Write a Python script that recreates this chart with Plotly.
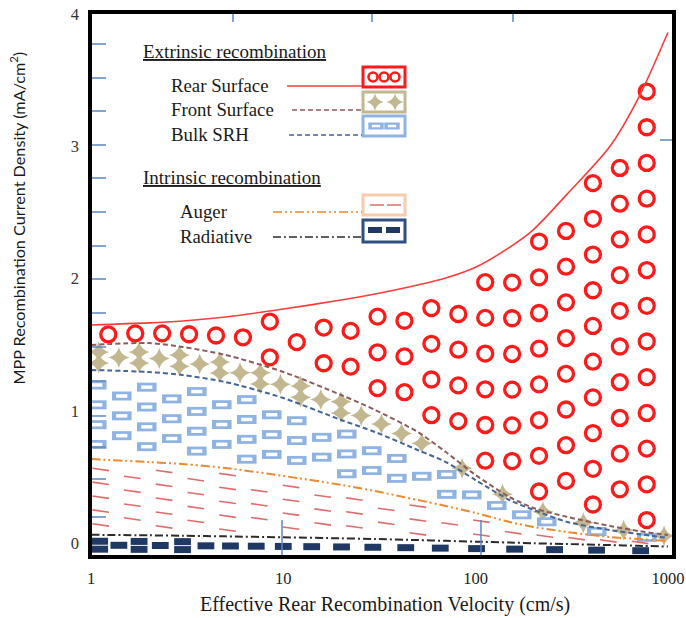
import numpy as np
import plotly.graph_objects as go

# Effective rear recombination velocity (cm/s)
velocity = [1, 2, 3, 5, 10, 20, 30, 50, 70, 100, 150, 200, 300, 500, 700, 1000]

# Stacked MPP recombination current density (mA/cm²); each curve is a running total
rear_surface = [1.648, 1.664, 1.679, 1.709, 1.769, 1.837, 1.883, 1.951, 2.004, 2.085,
                2.235, 2.37, 2.64, 3.0, 3.36, 3.860]
front_surface = [1.497, 1.512, 1.482, 1.422, 1.293, 1.119, 1.006, 0.839, 0.688, 0.514,
                 0.348, 0.265, 0.197, 0.129, 0.091, 0.060]
bulk_srh = [1.308, 1.293, 1.270, 1.217, 1.096, 0.930, 0.839, 0.703, 0.612, 0.476,
            0.325, 0.250, 0.159, 0.098, 0.068, 0.038]
auger = [0.635, 0.612, 0.597, 0.567, 0.507, 0.439, 0.393, 0.325, 0.280, 0.227,
         0.159, 0.121, 0.083, 0.045, 0.030, 0.015]
radiative = [0.062, 0.058, 0.055, 0.050, 0.043, 0.035, 0.030, 0.022, 0.016, 0.010,
             0.003, -0.002, -0.008, -0.016, -0.021, -0.027]

x_ticks = [1, 10, 100, 1000]
y_ticks = [0, 1, 2, 3, 4]

SERIF = "Liberation Serif, Times New Roman, serif"
SANS = "Lato, Open Sans, sans-serif"
X_RANGE = [-0.0052, 3.0317]
Y_RANGE = [-0.106, 4.015]
Y_FLOOR = -0.095
MARK_BLUE = "#5b86c4"

log_v = np.log10(velocity)


def curve_at(curve, lv):
    return float(np.interp(lv, log_v, curve))


def pattern(lower, upper, step_dec, step_y, pad, min_gap,
            start=0.08, stop=3.0, sparse_mid=False, growth=1.0):
    """Column-wise fill-pattern positions centred in the band between two curves."""
    xs, ys = [], []
    col = 0
    lv = start
    while lv <= stop:
        lo, hi = curve_at(lower, lv), curve_at(upper, lv)
        usable = hi - lo - 2 * pad
        if usable >= 0:
            k = int(usable // step_y) + 1
            if col % 2 == 1 and k > 1:
                k -= 1
            first = lo + pad + 0.5 * (usable - (k - 1) * step_y)
            for j in range(k):
                xs.append(10 ** lv)
                ys.append(first + j * step_y)
        elif hi - lo >= min_gap and (not sparse_mid or col % 2 == 0):
            xs.append(10 ** lv)
            ys.append(0.5 * (lo + hi))
        col += 1
        lv += step_dec
        step_dec *= growth
    return xs, ys


fig = go.Figure()


def add_markers(xs, ys, xaxis="x", yaxis="y", **marker):
    fig.add_trace(go.Scatter(x=xs, y=ys, mode="markers", marker=marker,
                             xaxis=xaxis, yaxis=yaxis, cliponaxis=True,
                             hoverinfo="skip", showlegend=False))


floor = np.full(len(velocity), Y_FLOOR)

# --- fill patterns for each recombination channel ---
px, py = pattern(front_surface, rear_surface, 0.14, 0.27, 0.07, 0.09, start=0.09)
add_markers(px, py, symbol="circle-open", size=15, color="#ff1a1a",
            line=dict(width=3.3, color="#ff1a1a"))

px, py = pattern(bulk_srh, front_surface, 0.105, 0.085, 0.045, 0.0,
                 start=0.04, sparse_mid=True)
add_markers(px, py, symbol="star-diamond", size=15, color="#c2b78f",
            line=dict(width=0))

px, py = pattern(auger, bulk_srh, 0.13, 0.15, 0.065, 0.0, start=0.03, sparse_mid=True)
add_markers(px, py, symbol="line-ew", size=14,
            line=dict(width=9, color="#8fb3e3"))
add_markers(px, py, symbol="line-ew", size=8,
            line=dict(width=3.5, color="white"))

px, py = pattern(radiative, auger, 0.165, 0.105, 0.045, 0.05, start=0.05)
add_markers(px, py, symbol="line-ew", size=12, angle=8,
            line=dict(width=1.6, color="#e06b6b"))

px, py = pattern(floor, radiative, 0.1, 0.06, 0.045, 0.03, start=0.045, growth=1.05)
add_markers(px, py, symbol="line-ew", size=12,
            line=dict(width=7, color="#1f3864"))

# --- cumulative curves ---
curve_styles = [
    (radiative, "#2b2b2b", "8px,3px,2px,3px", 2.0),
    (auger, "#f0882c", "9px,3px,2px,3px,2px,3px", 2.0),
    (bulk_srh, "#44659a", "5px,3px", 2.0),
    (front_surface, "#8e5b5b", "5px,3px", 2.0),
    (rear_surface, "#ff3b3b", "solid", 1.6),
]
for ys, color, dash, width in curve_styles:
    fig.add_trace(go.Scatter(x=velocity, y=ys, mode="lines",
                             line=dict(color=color, dash=dash, width=width,
                                       shape="spline", smoothing=0.8),
                             hoverinfo="skip", showlegend=False))

# --- hand-built key (drawn on a pixel-scaled overlay axis) ---
key_rows = [
    ("Rear Surface", 169, 86, 287, "#ff3b3b", "solid", "#ff1a1a", 67, 87),
    ("Front Surface", 169, 110, 292, "#8e5b5b", "5px,3px", "#c2b78f", 92, 112),
    ("Bulk SRH", 169, 135, 289, "#44659a", "5px,3px", "#8fb3e3", 116, 136),
    ("Auger", 178, 212, 273, "#f0882c", "9px,3px,2px,3px,2px,3px", "#f8cbad", 195, 215),
    ("Radiative", 178, 237, 273, "#2b2b2b", "8px,3px,2px,3px", "#2f4f80", 220, 242),
]
annotations = []
shapes = []
for label, tx, ly, lx0, lcol, ldash, bcol, by0, by1 in key_rows:
    fig.add_trace(go.Scatter(x=[lx0, 362], y=[ly, ly], mode="lines",
                             line=dict(color=lcol, dash=ldash, width=1.3),
                             xaxis="x2", yaxis="y2",
                             hoverinfo="skip", showlegend=False))
    annotations.append(dict(text=label, x=tx, y=ly - 1, xref="x2", yref="y2",
                            xanchor="left", yanchor="middle", showarrow=False,
                            font=dict(family=SERIF, size=18.8, color="#1a1a1a")))
    shapes.append(dict(type="rect", xref="x2", yref="y2", x0=363, x1=405,
                       y0=by0, y1=by1, line=dict(color=bcol, width=3),
                       fillcolor="white", layer="below"))

for head, hy in [("Extrinsic recombination", 51), ("Intrinsic recombination", 177)]:
    annotations.append(dict(text="<u>" + head + "</u>", x=141, y=hy, xref="x2", yref="y2",
                            xanchor="left", yanchor="middle", showarrow=False,
                            font=dict(family=SERIF, size=19, color="#1a1a1a")))

add_markers([373, 384, 395], [77, 77, 77], xaxis="x2", yaxis="y2",
            symbol="circle-open", size=9, color="#ff1a1a",
            line=dict(width=2.6, color="#ff1a1a"))
add_markers([375, 395], [102, 102], xaxis="x2", yaxis="y2",
            symbol="star-diamond", size=12, color="#c2b78f", line=dict(width=0))
add_markers([376, 392], [126, 126], xaxis="x2", yaxis="y2",
            symbol="line-ew", size=11, line=dict(width=7, color="#8fb3e3"))
add_markers([376, 392], [126, 126], xaxis="x2", yaxis="y2",
            symbol="line-ew", size=6, line=dict(width=2.5, color="white"))
add_markers([377, 394], [205, 205], xaxis="x2", yaxis="y2",
            symbol="line-ew", size=10, line=dict(width=1.5, color="#e06b6b"))
add_markers([375, 393], [230, 230], xaxis="x2", yaxis="y2",
            symbol="line-ew", size=10, line=dict(width=6, color="#1f3864"))

# short blue marks along the frame
for ty in [44, 78, 111, 145, 178, 212, 246, 279, 313, 347, 381, 416, 447, 479, 517]:
    shapes.append(dict(type="line", xref="x2", yref="y2", x0=91, x1=106, y0=ty, y1=ty,
                       line=dict(color=MARK_BLUE, width=1.5)))
for tx in [233, 372, 513]:
    shapes.append(dict(type="line", xref="x2", yref="y2", x0=tx, x1=tx, y0=12, y1=22,
                       line=dict(color=MARK_BLUE, width=1.5)))
shapes.append(dict(type="line", xref="x2", yref="y2", x0=660, x1=673, y0=140, y1=140,
                   line=dict(color=MARK_BLUE, width=1.5)))
for tx in [282, 481]:
    shapes.append(dict(type="line", xref="x2", yref="y2", x0=tx, x1=tx, y0=520, y1=555,
                       line=dict(color=MARK_BLUE, width=1.5)))

# plot frame
shapes.append(dict(type="rect", xref="paper", yref="paper", x0=0, x1=1, y0=0, y1=1,
                   line=dict(color="black", width=4)))

# axis titles
annotations.append(dict(text="Effective Rear Recombination Velocity (cm/s)",
                        x=(385 - 90) / 584, y=(557 - 605) / 546, xref="paper", yref="paper",
                        xanchor="center", yanchor="middle", showarrow=False,
                        font=dict(family=SERIF, size=20, color="#1a1a1a")))
annotations.append(dict(text="MPP Recombination Current Density (mA/cm<sup>2</sup>)",
                        x=(18 - 90) / 584, y=(557 - 218) / 546, xref="paper", yref="paper",
                        xanchor="center", yanchor="middle", showarrow=False, textangle=-90,
                        font=dict(family=SANS, size=16.2, color="#1a1a1a")))

fig.update_layout(
    width=686, height=618,
    margin=dict(l=90, r=12, t=12, b=61, autoexpand=False),
    paper_bgcolor="white", plot_bgcolor="white",
    xaxis=dict(type="log", range=X_RANGE, tickvals=x_ticks,
               ticktext=[str(v) for v in x_ticks], ticks="", showgrid=False,
               zeroline=False, showline=False, ticklabelstandoff=9, automargin=False,
               tickfont=dict(family=SERIF, size=16.5, color="#222")),
    yaxis=dict(range=Y_RANGE, tickvals=y_ticks, ticks="", showgrid=False,
               zeroline=False, showline=False, ticklabelstandoff=10, automargin=False,
               tickfont=dict(family=SERIF, size=16.5, color="#333")),
    xaxis2=dict(range=[90, 674], overlaying="x", anchor="y2", visible=False,
                automargin=False),
    yaxis2=dict(range=[557, 12], overlaying="y", anchor="x2", visible=False,
                automargin=False),
    annotations=annotations,
    shapes=shapes,
)

fig.write_html("out.html")
